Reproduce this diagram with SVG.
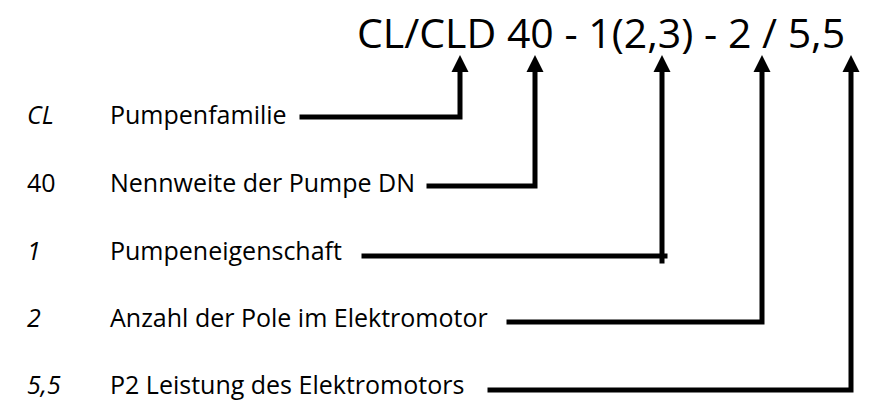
<svg xmlns="http://www.w3.org/2000/svg" width="872" height="401" viewBox="0 0 872 401">
<style>
.t{font-family:"Open Sans","Liberation Sans",sans-serif;fill:#000}
.title{font-size:41px}
.lbl{font-size:25px}
.it{font-style:italic}
.ln{fill:none;stroke:#000;stroke-width:5;stroke-linecap:square;stroke-linejoin:miter}
.ah{fill:#000}
</style>
<rect width="872" height="401" fill="#fff"/>
<g id="title"><text class="t title" x="357" y="48">CL/CLD 40 - 1(2,3) - 2 / 5,5</text></g>
<g id="row-cl"><text class="t lbl it" x="27" y="124">CL</text><text class="t lbl" x="110" y="124">Pumpenfamilie</text></g>
<g id="row-40"><text class="t lbl" x="27" y="192">40</text><text class="t lbl" x="110" y="192">Nennweite der Pumpe DN</text></g>
<g id="row-1"><text class="t lbl it" x="27" y="260">1</text><text class="t lbl" x="110" y="260">Pumpeneigenschaft</text></g>
<g id="row-2"><text class="t lbl it" x="27" y="327">2</text><text class="t lbl" x="110" y="327">Anzahl der Pole im Elektromotor</text></g>
<g id="row-55"><text class="t lbl it" x="27" y="394">5,5</text><text class="t lbl" x="110" y="394">P2 Leistung des Elektromotors</text></g>
<g id="connectors">
<path class="ln" d="M302 117 H460 V72"/>
<polygon class="ah" points="460,55 451.5,72 468.5,72"/>
<path class="ln" d="M429 186 H535 V72"/>
<polygon class="ah" points="535,55 526.5,72 543.5,72"/>
<path class="ln" d="M364 256 H665 M662 261 V72"/>
<polygon class="ah" points="662,55 653.5,72 670.5,72"/>
<path class="ln" d="M509 322 H762 V72"/>
<polygon class="ah" points="762,55 753.5,72 770.5,72"/>
<path class="ln" d="M490 390 H851 V72"/>
<polygon class="ah" points="851,55 842.5,72 859.5,72"/>
</g>
</svg>
